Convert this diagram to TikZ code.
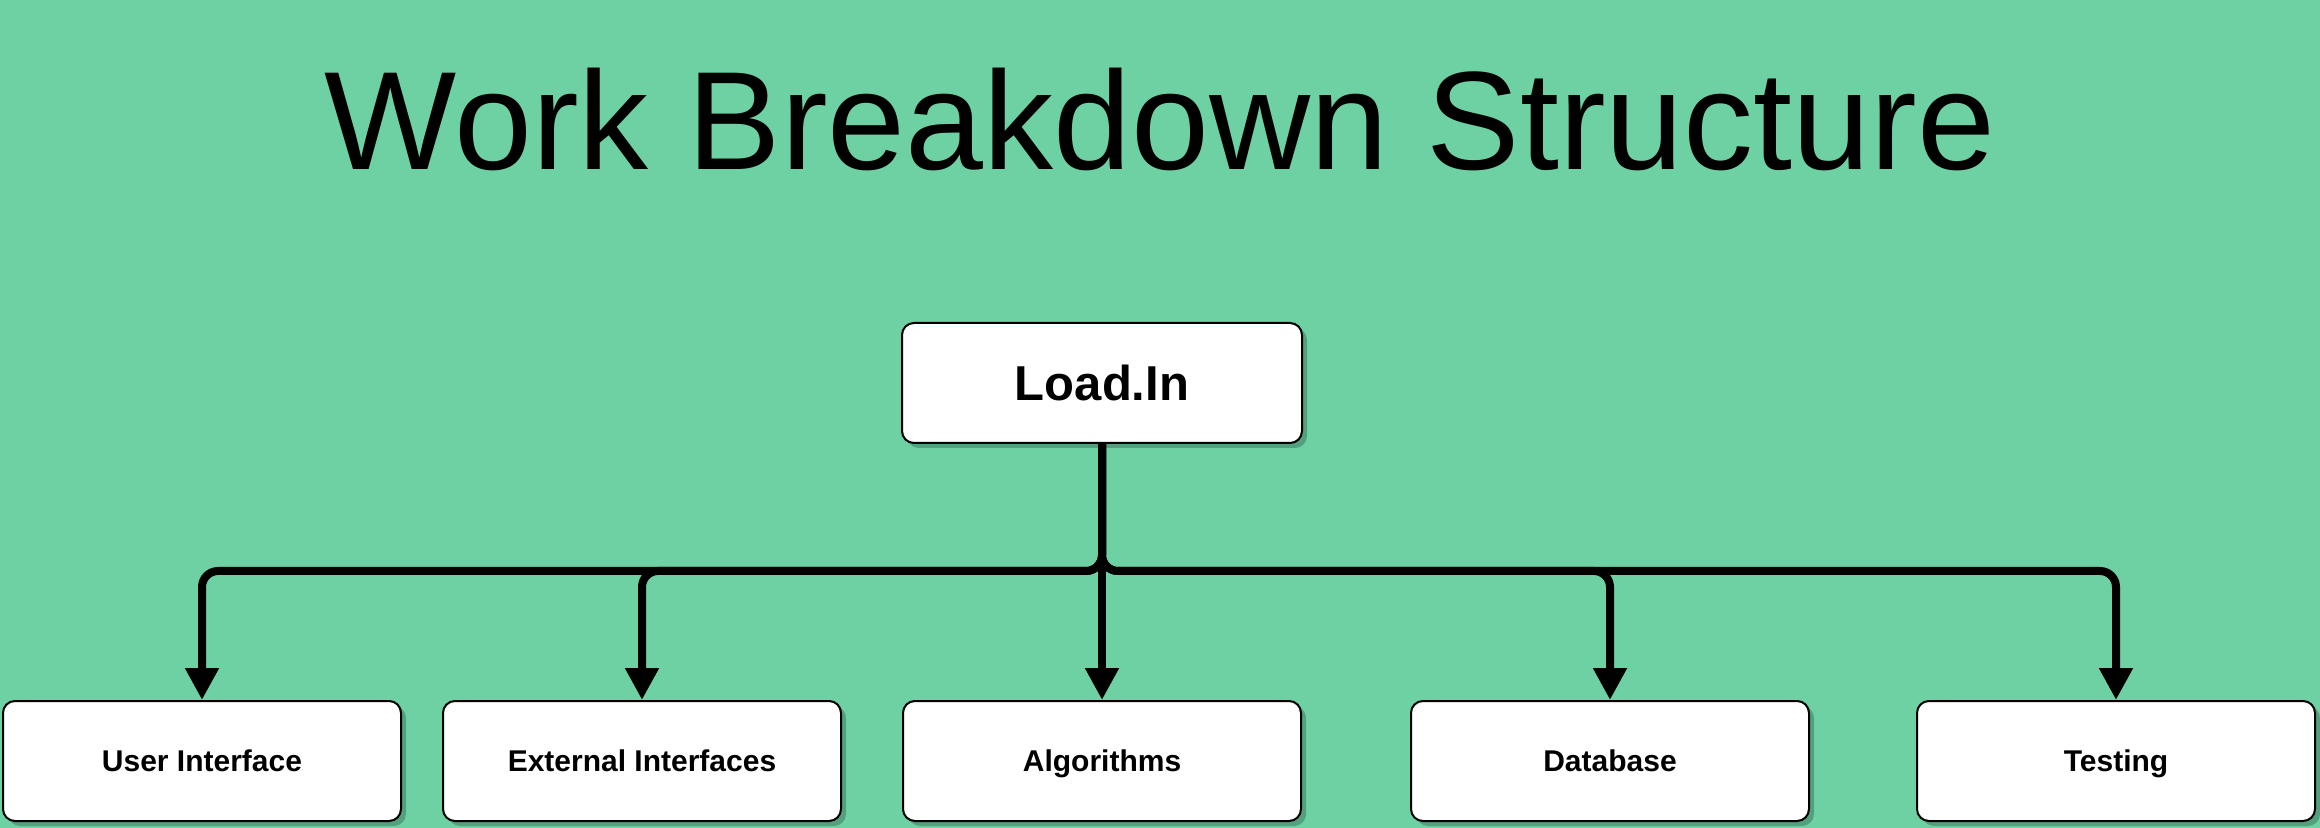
\documentclass[tikz,border=0pt]{standalone}
\usepackage{fontspec}
\setmainfont{Liberation Sans}
\usetikzlibrary{arrows.meta,shadows}
\definecolor{bg}{HTML}{6DD1A3}
\definecolor{shd}{HTML}{52A07D}
\begin{document}
\begin{tikzpicture}[x=0.5pt,y=-0.5pt,
  box/.style={draw=black, line width=1pt, fill=white, rounded corners=6pt,
    minimum width=199pt, minimum height=60pt, inner sep=0pt,
    text height=10.7pt, text depth=0pt,
    font=\bfseries\fontsize{15}{18}\selectfont,
    drop shadow={shadow xshift=2.5pt, shadow yshift=-2.5pt, fill=shd, opacity=1}},
  edge/.style={line width=4pt, rounded corners=8pt, -{Triangle[width=16pt,length=16pt]}}]
\fill[bg] (0,0) rectangle (2320,828);
\useasboundingbox (0,0) rectangle (2320,828);
\node[font=\fontsize{70}{84}\selectfont, anchor=base, inner sep=0pt] (title) at (1160,170) {Work Breakdown Structure};
\node[box, minimum width=200pt, text height=17.5pt, font=\bfseries\fontsize{24.5}{30}\selectfont] (top) at (1102,383) {Load.In};
\node[box] (ui) at (202,761) {User Interface};
\node[box] (ext) at (642,761) {External Interfaces};
\node[box] (alg) at (1102,761) {Algorithms};
\node[box] (db) at (1610,761) {Database};
\node[box] (test) at (2116,761) {Testing};
\coordinate (bus) at (1102,571);
\draw[edge] (top.south) -- (bus) -- (bus -| ui.north) -- (ui.north);
\draw[edge] (top.south) -- (bus) -- (bus -| ext.north) -- (ext.north);
\draw[edge] (top.south) -- (alg.north);
\draw[edge] (top.south) -- (bus) -- (bus -| db.north) -- (db.north);
\draw[edge] (top.south) -- (bus) -- (bus -| test.north) -- (test.north);
\end{tikzpicture}
\end{document}
